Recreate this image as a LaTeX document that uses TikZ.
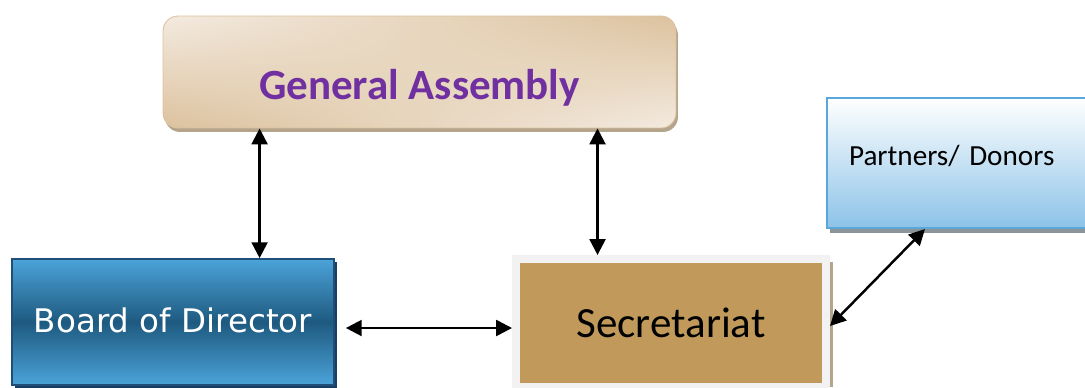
\documentclass[tikz,border=0pt]{standalone}
\usepackage{fontspec}
\setmainfont{Carlito}
\newfontfamily\verdfont{DejaVu Sans}
\usepackage{tikz}
\usetikzlibrary{arrows.meta, shadows, shadings}

\definecolor{gaPurple}{HTML}{7030A0}
\definecolor{gaLight}{HTML}{F3EADF}
\definecolor{gaDark}{HTML}{DCC29E}
\definecolor{gaShadow}{HTML}{B5A48C}
\definecolor{bodLight}{HTML}{4BA3D9}
\definecolor{bodDark}{HTML}{1E5A80}
\definecolor{bodLine}{HTML}{1F4E79}
\definecolor{secFill}{HTML}{C19A5B}
\definecolor{secRim}{HTML}{F2F2F2}
\definecolor{secShadow}{HTML}{B3A48C}
\definecolor{donLine}{HTML}{5AA7DC}
\definecolor{donBottom}{HTML}{8CC3E8}
\definecolor{donShadow}{HTML}{8A9499}

\begin{document}
\begin{tikzpicture}[x=0.02cm, y=-0.02cm,
    link/.style={{Triangle[length=9pt,width=9pt]}-{Triangle[length=9pt,width=9pt]}, line width=1.4pt},
    box/.style={rectangle, inner sep=0pt}]
        \useasboundingbox (0,0) rectangle (1085,387);

        % Boxes
        \node[box, rounded corners=0.3cm, minimum width=10.26cm, minimum height=2.24cm,
              upper left=gaLight, lower right=gaLight, upper right=gaDark, lower left=gaDark,
              draw=gaDark, line width=0.5pt,
              drop shadow={shadow xshift=0.04cm, shadow yshift=-0.08cm, fill=gaShadow, opacity=1},
              text=gaPurple, font=\fontsize{24.5}{28}\selectfont\bfseries] (ga) at (419.5, 72) {\raisebox{-0.54cm}[0pt][0pt]{General Assembly}};
        \node[box, minimum width=6.44cm, minimum height=2.52cm,
              top color=bodLight, bottom color=bodLight, middle color=bodDark,
              draw=bodLine, line width=1pt,
              drop shadow={shadow xshift=0.06cm, shadow yshift=-0.06cm, fill=bodLine!80!black, opacity=1},
              text=white, font=\verdfont\fontsize{18.5}{22}\selectfont] (bod) at (173, 322) {\raisebox{0.08cm}{Board of Director}};
        \fill[secShadow] (827, 262) rectangle (833, 387);
        \node[box, minimum width=6.2cm, minimum height=2.56cm,
              fill=secFill, draw=secRim, line width=0.16cm,
              font=\fontsize{24.5}{28}\selectfont] (sec) at (671, 323) {Secretariat};
        \node[box, anchor=west, minimum height=2.6cm, text width=4.4cm, inner xsep=0.44cm, align=left,
              top color=white, bottom color=donBottom, draw=donLine, line width=1.2pt,
              drop shadow={shadow xshift=0.06cm, shadow yshift=-0.1cm, fill=donShadow, opacity=1},
              font=\fontsize{16.6}{19}\selectfont] (don) at (826, 163) {\raisebox{0.3cm}{Partners/ Donors}};

        % Links
        \draw[link] ([xshift=1.94cm]ga.south west) -- ([xshift=1.94cm]ga.south west |- bod.north);
        \draw[link] ([xshift=8.7cm]ga.south west) -- ([xshift=8.7cm]ga.south west |- sec.north);
        \draw[link] ([xshift=0.22cm, yshift=-0.12cm]bod.east) -- ([yshift=-0.12cm]bod.east -| sec.west);
        \draw[link] ([yshift=-0.06cm]sec.east) -- ([xshift=1.98cm]don.south west);
\end{tikzpicture}
\end{document}
